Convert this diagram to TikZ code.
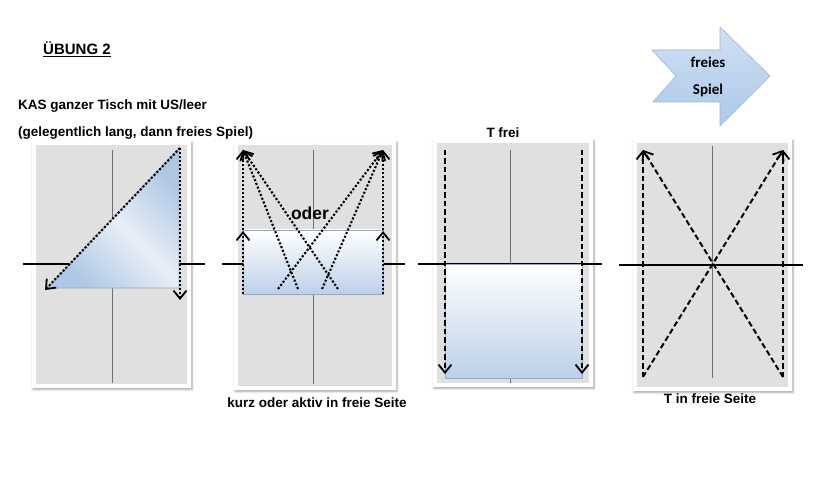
\documentclass[tikz,border=0pt]{standalone}
\usepackage{fontspec}
\setmainfont{Liberation Sans}
\newfontfamily\calibfont{Carlito}
\usetikzlibrary{arrows.meta,shadows.blur}
\definecolor{tablegrey}{HTML}{E0E0E0}
\definecolor{lblue}{HTML}{BCD0EA}
\definecolor{dblue}{HTML}{AFC7E5}
\definecolor{pblue}{HTML}{E8EEF7}
\definecolor{edgeblue}{HTML}{8FA9CB}
\definecolor{midline}{HTML}{707070}
\definecolor{arrtop}{HTML}{CFE0F4}
\definecolor{arrbot}{HTML}{AEC8E9}
\definecolor{arredge}{HTML}{9DB5D4}
\begin{document}
\begin{tikzpicture}[x=1pt,y=-1pt,
  tabouter/.style={fill=white, blur shadow={shadow xshift=1pt,shadow yshift=-1.5pt,shadow blur steps=6,shadow opacity=35}},
  tabgrey/.style={fill=tablegrey},
  centreline/.style={draw=midline, line width=0.7pt},
  netline/.style={draw=black, line width=1.8pt},
  bluefill/.style={draw=edgeblue, line width=0.6pt, top color=white, bottom color=lblue},
  tipv/.style={-{Straight Barb[length=8pt,width=13pt,line width=1.8pt]}},
  dotarrow/.style={line width=2.1pt, dash pattern=on 2.1pt off 1.9pt, tipv},
  dasharrow/.style={line width=2pt, dash pattern=on 5.5pt off 3pt, tipv},
  lbl/.style={font=\bfseries\fontsize{13.5}{16}\selectfont, inner sep=0pt}
]
\useasboundingbox (0,0) rectangle (820,500);

% ---------- header texts ----------
\node[lbl, font=\bfseries\fontsize{15}{18}\selectfont, anchor=base west] (title) at (43,55) {\underline{ÜBUNG 2}};
\node[lbl, anchor=base west] (kas) at (18,110) {KAS ganzer Tisch mit US/leer};
\node[lbl, anchor=base west] (gel) at (18,137) {(gelegentlich lang, dann freies Spiel)};

% ---------- block arrow ----------
\draw[draw=arredge, line width=0.6pt, top color=arrtop, bottom color=arrbot]
  (652,50) -- (720,50) -- (720,27) -- (770,76) -- (720,126) -- (720,102) -- (653,102) -- (676,76) -- cycle;
\node[font=\calibfont\bfseries\fontsize{15}{27}\selectfont, align=center, inner sep=0pt] (frei) at (708,77) {freies\\Spiel};

% ---------- table 1 ----------
\path[tabouter] (32,141) rectangle (191,388);
\fill[tabgrey] (36,145) rectangle (187,384);
\draw[centreline] (112,150) -- (112,383);
\draw[netline] (23,264) -- (205,264);
\draw[draw=edgeblue, line width=0.6pt, shading=axis, left color=dblue, right color=dblue, middle color=pblue, shading angle=-45]
  (47,288) -- (179,148) -- (179,288) -- cycle;
\coordinate (t1top) at (180,148);
\coordinate (t1bl) at (45,290);
\coordinate (t1br) at (180,300);
\draw[dotarrow] (t1top) -- (t1bl);
\draw[dotarrow] (t1top) -- (t1br);

% ---------- table 2 ----------
\path[tabouter] (234,141) rectangle (396,390);
\fill[tabgrey] (238,145) rectangle (392,386);
\draw[centreline] (313,150) -- (313,384);
\draw[netline] (222,264) -- (405,264);
\draw[bluefill] (243,230) rectangle (383,294);
\node[lbl, font=\bfseries\fontsize{17.5}{20}\selectfont, anchor=base] (oder) at (310,220) {oder};
\coordinate (t2lb) at (243,294);
\coordinate (t2rb) at (383,294);
\coordinate (t2lm) at (243,231);
\coordinate (t2rm) at (383,231);
\coordinate (t2lt) at (243,150);
\coordinate (t2rt) at (383,150);
\coordinate (t2a) at (278,289);
\coordinate (t2b) at (298,289);
\coordinate (t2c) at (322,289);
\coordinate (t2d) at (338,289);
\draw[dotarrow] (t2lb) -- (t2lm);
\draw[dotarrow] (t2lb) -- (t2lt);
\draw[dotarrow] (t2rb) -- (t2rm);
\draw[dotarrow] (t2rb) -- (t2rt);
\draw[dotarrow] (t2b) -- (t2lt);
\draw[dotarrow] (t2d) -- (t2lt);
\draw[dotarrow] (t2a) -- (t2rt);
\draw[dotarrow] (t2c) -- (t2rt);
\node[lbl, anchor=base] (kurz) at (317,407) {kurz oder aktiv in freie Seite};

% ---------- table 3 ----------
\node[lbl, anchor=base] (tfrei) at (503,138) {T frei};
\path[tabouter] (433,139) rectangle (593,387);
\fill[tabgrey] (437,143) rectangle (589,383);
\draw[centreline] (510,150) -- (510,264);
\draw[centreline] (510,378) -- (510,383);
\draw[netline] (418,264) -- (602,264);
\draw[bluefill] (445,264) rectangle (582,378);
\coordinate (t3lt) at (445,150);
\coordinate (t3lb) at (445,374);
\coordinate (t3rt) at (582,150);
\coordinate (t3rb) at (582,374);
\draw[dasharrow] (t3lt) -- (t3lb);
\draw[dasharrow] (t3rt) -- (t3rb);

% ---------- table 4 ----------
\path[tabouter] (633,139) rectangle (792,391);
\fill[tabgrey] (637,143) rectangle (788,387);
\draw[centreline] (712,146) -- (712,378);
\draw[netline] (619,265) -- (803,265);
\coordinate (t4lt) at (643,150);
\coordinate (t4lb) at (643,377);
\coordinate (t4rt) at (783,150);
\coordinate (t4rb) at (783,377);
\draw[dasharrow] (t4lb) -- (t4lt);
\draw[dasharrow] (t4rb) -- (t4lt);
\draw[dasharrow] (t4rb) -- (t4rt);
\draw[dasharrow] (t4lb) -- (t4rt);
\node[lbl, anchor=base] (tin) at (710,403) {T in freie Seite};
\end{tikzpicture}
\end{document}
